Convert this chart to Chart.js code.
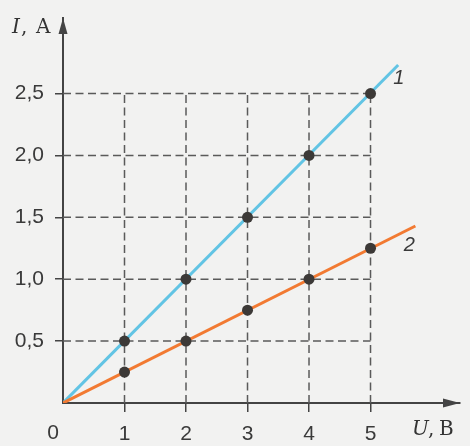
<!DOCTYPE html>
<html>
<head>
<meta charset="utf-8">
<script src="https://cdn.jsdelivr.net/npm/chart.js@4/dist/chart.umd.min.js"></script>
<style>
html,body{margin:0;padding:0;background:#f2f2f1;}
#wrap{width:470px;height:446px;position:relative;}
</style>
</head>
<body>
<div id="wrap"><canvas id="c" width="470" height="446"></canvas></div>
<script>
// Data
const uValues = [1, 2, 3, 4, 5];
const iSeries1 = [0.5, 1.0, 1.5, 2.0, 2.5];
const iSeries2 = [0.25, 0.5, 0.75, 1.0, 1.25];
const line1U = [0, 5.45];
const line1I = [0, 2.73];
const line2U = [0, 5.73];
const line2I = [0, 1.43];
const xTickValues = [0, 1, 2, 3, 4, 5];
const xTickLabels = ['0', '1', '2', '3', '4', '5'];
const yTickValues = [0.5, 1.0, 1.5, 2.0, 2.5];
const yTickLabels = ['0,5', '1,0', '1,5', '2,0', '2,5'];
const seriesNames = ['1', '2'];

const toPts = (xs, ys) => xs.map((x, k) => ({x: x, y: ys[k]}));
const dash = [8, 4.5];
const gridColor = '#5a5a5a';
const maxU = uValues[uValues.length - 1];
const maxI = yTickValues[yTickValues.length - 1];

const gridSets = [];
uValues.forEach(u => gridSets.push({data: [{x: u, y: 0}, {x: u, y: maxI}], showLine: true, borderColor: gridColor, borderWidth: 1.5, borderDash: dash, pointRadius: 0, order: 5}));
yTickValues.forEach(v => gridSets.push({data: [{x: 0, y: v}, {x: maxU, y: v}], showLine: true, borderColor: gridColor, borderWidth: 1.5, borderDash: dash, pointRadius: 0, order: 5}));

const datasets = gridSets.concat([
  {label: seriesNames[0], data: toPts(line1U, line1I), showLine: true, borderColor: '#62c4e4', borderWidth: 3, pointRadius: 0, order: 3},
  {label: seriesNames[1], data: toPts(line2U, line2I), showLine: true, borderColor: '#f27a32', borderWidth: 3, pointRadius: 0, order: 2},
  {data: toPts(uValues, iSeries1), showLine: false, pointRadius: 5.5, pointBackgroundColor: '#3c3937', pointBorderWidth: 0, order: 1},
  {data: toPts(uValues, iSeries2), showLine: false, pointRadius: 5.5, pointBackgroundColor: '#3c3937', pointBorderWidth: 0, order: 1}
]);

const axisColor = '#444444';
const tickFont = {family: '"Liberation Sans", Arial, sans-serif', size: 21};

const decor = {
  id: 'decor',
  afterDraw(chart) {
    const ctx = chart.ctx;
    const xs = chart.scales.x, ys = chart.scales.y;
    const a = chart.chartArea;
    const x0 = xs.getPixelForValue(0), y0 = ys.getPixelForValue(0);
    ctx.save();
    ctx.fillStyle = axisColor;
    // arrows
    ctx.beginPath();
    ctx.moveTo(x0, a.top); ctx.lineTo(x0 - 4.5, a.top + 16); ctx.lineTo(x0 + 4.5, a.top + 16); ctx.closePath(); ctx.fill();
    ctx.beginPath();
    ctx.moveTo(a.right, y0); ctx.lineTo(a.right - 17, y0 - 4.5); ctx.lineTo(a.right - 17, y0 + 4.5); ctx.closePath(); ctx.fill();
    // "0" label
    ctx.fillStyle = '#3a3a3a';
    ctx.font = '21px "Liberation Sans", Arial, sans-serif';
    ctx.textAlign = 'center'; ctx.textBaseline = 'middle';
    ctx.fillText(xTickLabels[0], x0 - 10, y0 + 30);
    // series labels
    ctx.font = 'italic 20px "Liberation Sans", Arial, sans-serif';
    ctx.fillText(seriesNames[0], xs.getPixelForValue(5.46), ys.getPixelForValue(2.62));
    ctx.fillText(seriesNames[1], xs.getPixelForValue(5.63), ys.getPixelForValue(1.27));
    // axis titles
    ctx.fillStyle = '#333333';
    ctx.textAlign = 'left'; ctx.textBaseline = 'alphabetic';
    const serif = '"DejaVu Serif", "Liberation Serif", serif';
    function title(it, rest, x, xc, xr, y) {
      ctx.font = 'italic 20px ' + serif;
      ctx.fillText(it, x, y);
      ctx.font = '20px ' + serif;
      ctx.fillText(',', xc, y);
      ctx.fillText(rest, xr, y);
    }
    title('I', 'A', 12, 21, 36, 33);
    title('U', 'B', 412, 428, 439, 435);
    ctx.restore();
  }
};

new Chart(document.getElementById('c'), {
  type: 'scatter',
  data: {datasets: datasets},
  options: {
    responsive: false,
    animation: false,
    events: [],
    layout: {padding: {left: 0, top: 18, right: 10, bottom: 0}},
    plugins: {legend: {display: false}, tooltip: {enabled: false}},
    scales: {
      x: {
        type: 'linear', min: 0, max: 6.455,
        afterBuildTicks: s => { s.ticks = xTickValues.map(v => ({value: v})); },
        afterFit: s => { s.height = 43; s.paddingLeft = 0; s.paddingRight = 0; },
        border: {display: true, color: axisColor, width: 2},
        grid: {drawOnChartArea: false, drawTicks: true, tickLength: 9, lineWidth: 1.5,
               color: c => (c.tick && c.tick.value === 0) ? 'rgba(0,0,0,0)' : axisColor},
        ticks: {font: tickFont, color: '#3a3a3a', padding: 10, maxRotation: 0, autoSkip: false,
                callback: (v) => { const k = xTickValues.indexOf(v); return k > 0 ? xTickLabels[k] : ''; }}
      },
      y: {
        type: 'linear', min: 0, max: 3.11,
        afterBuildTicks: s => { s.ticks = yTickValues.map(v => ({value: v})); },
        afterFit: s => { s.width = 63; s.paddingTop = 0; s.paddingBottom = 0; },
        border: {display: true, color: axisColor, width: 2},
        grid: {drawOnChartArea: false, drawTicks: true, tickLength: 8, lineWidth: 1.5, color: axisColor},
        ticks: {font: tickFont, color: '#3a3a3a', padding: 11, autoSkip: false,
                callback: (v) => { const k = yTickValues.indexOf(v); return k >= 0 ? yTickLabels[k] : ''; }}
      }
    }
  },
  plugins: [decor]
});
</script>
</body>
</html>
